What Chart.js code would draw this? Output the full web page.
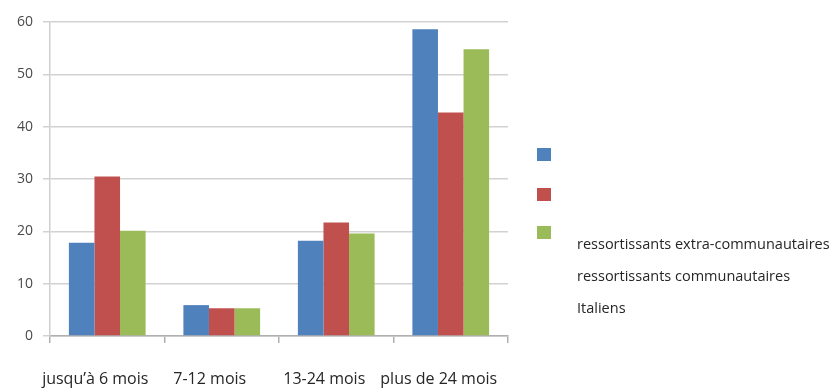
<!DOCTYPE html>
<html>
<head>
<meta charset="utf-8">
<script src="https://cdn.jsdelivr.net/npm/chart.js@4"></script>
<style>
  html, body { margin: 0; padding: 0; background: #ffffff; }
  #wrap { width: 834px; height: 390px; }
</style>
</head>
<body>
<div id="wrap"><canvas id="chart" width="834" height="390"></canvas></div>
<script>
// Durée de séjour, par groupe de nationalité (%)
const categories = ["jusqu\u2019à 6 mois", "7-12 mois", "13-24 mois", "plus de 24 mois"];
const extraCommunautaires = [17.8, 5.9, 18.2, 58.6];
const communautaires = [30.5, 5.3, 21.7, 42.7];
const italiens = [20.1, 5.3, 19.6, 54.8];
const seriesNames = ["ressortissants extra-communautaires", "ressortissants communautaires", "Italiens"];
const seriesColors = ["#4F81BD", "#C0504D", "#9BBB59"];
const yTicks = [0, 10, 20, 30, 40, 50, 60];

const FONT = "'Open Sans', 'DejaVu Sans', sans-serif";

// Legend with colour keys stacked on the left and the names listed below them
const sideLegend = {
  id: "sideLegend",
  afterDraw(chart) {
    const ctx = chart.ctx;
    const boxX = 537, boxW = 14, boxH = 13;
    const boxY = [148, 188, 226];
    const textX = 577;
    const textY = [245, 277, 309];
    ctx.save();
    chart.data.datasets.forEach((ds, i) => {
      ctx.fillStyle = ds.backgroundColor;
      ctx.fillRect(boxX, boxY[i], boxW, boxH);
      ctx.fillStyle = "#262626";
      ctx.font = "14.5px " + FONT;
      ctx.textBaseline = "middle";
      ctx.textAlign = "left";
      ctx.fillText(ds.label, textX, textY[i]);
    });
    ctx.restore();
  }
};

new Chart(document.getElementById("chart"), {
  type: "bar",
  data: {
    labels: categories,
    datasets: [
      { label: seriesNames[0], data: extraCommunautaires, backgroundColor: seriesColors[0] },
      { label: seriesNames[1], data: communautaires, backgroundColor: seriesColors[1] },
      { label: seriesNames[2], data: italiens, backgroundColor: seriesColors[2] }
    ]
  },
  options: {
    responsive: false,
    animation: false,
    devicePixelRatio: 1,
    layout: { padding: { left: 0, top: 22, right: 326, bottom: 0 } },
    datasets: { bar: { categoryPercentage: 0.67, barPercentage: 1.0, borderWidth: 0 } },
    plugins: {
      legend: { display: false },
      tooltip: { enabled: false }
    },
    scales: {
      x: {
        afterFit(scale) { scale.height = 54; },
        grid: {
          drawOnChartArea: false,
          drawTicks: true,
          tickLength: 7,
          color: "#b0b0b0",
          lineWidth: 1.5
        },
        border: { display: true, color: "#b0b0b0", width: 1.5 },
        ticks: {
          color: "#262626",
          font: { family: FONT, size: 16 },
          padding: 27,
          labelOffset: -12,
          maxRotation: 0,
          autoSkip: false
        }
      },
      y: {
        min: 0,
        max: 60,
        afterFit(scale) { scale.width = 50; },
        afterBuildTicks(scale) { scale.ticks = yTicks.map(v => ({ value: v })); },
        grid: {
          color: "#d2d2d2",
          lineWidth: 1.5,
          tickLength: 7
        },
        border: { display: true, color: "#d0d0d0", width: 1.5 },
        ticks: {
          color: "#4a4a4a",
          font: { family: FONT, size: 14 },
          padding: 10
        }
      }
    }
  },
  plugins: [sideLegend]
});
</script>
</body>
</html>
